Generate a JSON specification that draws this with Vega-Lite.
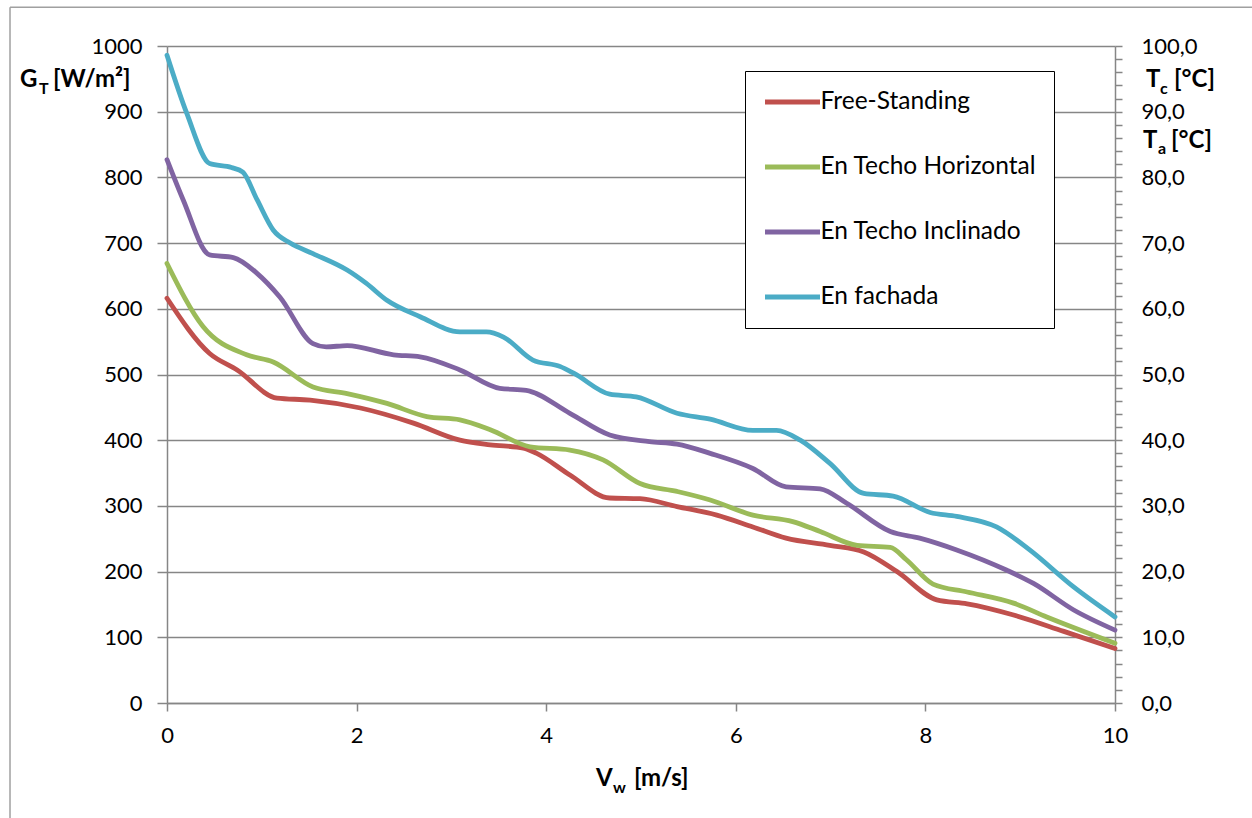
{
  "$schema": "https://vega.github.io/schema/vega-lite/v6.json",
  "autosize": {"type": "none"},
  "width": 948,
  "height": 657,
  "padding": {"left": 167, "top": 46, "right": 137, "bottom": 115},
  "background": "white",
  "data": {"values": [{}]},
  "config": {
    "view": {"stroke": null},
    "font": "Lato",
    "axis": {"labelFont": "Lato", "labelFontSize": 22, "labelColor": "black", "domainColor": "#868686", "tickColor": "#868686", "domainWidth": 1.5, "tickWidth": 1.5, "gridColor": "#868686", "gridWidth": 1.4}
  },
  "datasets": {
    "curves": [
      {"v": 0, "g": 616, "s": "Free-Standing"},
      {"v": 0.45, "g": 532, "s": "Free-Standing"},
      {"v": 0.74, "g": 507, "s": "Free-Standing"},
      {"v": 1.16, "g": 464, "s": "Free-Standing"},
      {"v": 1.51, "g": 461, "s": "Free-Standing"},
      {"v": 2.04, "g": 449, "s": "Free-Standing"},
      {"v": 2.6, "g": 426, "s": "Free-Standing"},
      {"v": 3.09, "g": 400, "s": "Free-Standing"},
      {"v": 3.41, "g": 393, "s": "Free-Standing"},
      {"v": 3.76, "g": 388, "s": "Free-Standing"},
      {"v": 3.9, "g": 380, "s": "Free-Standing"},
      {"v": 4.25, "g": 347, "s": "Free-Standing"},
      {"v": 4.67, "g": 312, "s": "Free-Standing"},
      {"v": 4.99, "g": 311, "s": "Free-Standing"},
      {"v": 5.38, "g": 299, "s": "Free-Standing"},
      {"v": 5.8, "g": 286, "s": "Free-Standing"},
      {"v": 6.18, "g": 268, "s": "Free-Standing"},
      {"v": 6.53, "g": 251, "s": "Free-Standing"},
      {"v": 6.99, "g": 240, "s": "Free-Standing"},
      {"v": 7.35, "g": 230, "s": "Free-Standing"},
      {"v": 7.7, "g": 200, "s": "Free-Standing"},
      {"v": 8.12, "g": 157, "s": "Free-Standing"},
      {"v": 8.44, "g": 151, "s": "Free-Standing"},
      {"v": 8.93, "g": 134, "s": "Free-Standing"},
      {"v": 9.46, "g": 109, "s": "Free-Standing"},
      {"v": 10, "g": 83, "s": "Free-Standing"},

      {"v": 0, "g": 669, "s": "En Techo Horizontal"},
      {"v": 0.38, "g": 573, "s": "En Techo Horizontal"},
      {"v": 0.84, "g": 530, "s": "En Techo Horizontal"},
      {"v": 1.12, "g": 519, "s": "En Techo Horizontal"},
      {"v": 1.54, "g": 481, "s": "En Techo Horizontal"},
      {"v": 1.9, "g": 471, "s": "En Techo Horizontal"},
      {"v": 2.32, "g": 456, "s": "En Techo Horizontal"},
      {"v": 2.74, "g": 436, "s": "En Techo Horizontal"},
      {"v": 3.09, "g": 431, "s": "En Techo Horizontal"},
      {"v": 3.41, "g": 416, "s": "En Techo Horizontal"},
      {"v": 3.83, "g": 390, "s": "En Techo Horizontal"},
      {"v": 4.25, "g": 385, "s": "En Techo Horizontal"},
      {"v": 4.6, "g": 370, "s": "En Techo Horizontal"},
      {"v": 4.99, "g": 334, "s": "En Techo Horizontal"},
      {"v": 5.38, "g": 322, "s": "En Techo Horizontal"},
      {"v": 5.73, "g": 309, "s": "En Techo Horizontal"},
      {"v": 6.18, "g": 286, "s": "En Techo Horizontal"},
      {"v": 6.6, "g": 276, "s": "En Techo Horizontal"},
      {"v": 6.89, "g": 261, "s": "En Techo Horizontal"},
      {"v": 7.28, "g": 240, "s": "En Techo Horizontal"},
      {"v": 7.63, "g": 237, "s": "En Techo Horizontal"},
      {"v": 7.8, "g": 218, "s": "En Techo Horizontal"},
      {"v": 8.08, "g": 181, "s": "En Techo Horizontal"},
      {"v": 8.44, "g": 169, "s": "En Techo Horizontal"},
      {"v": 8.93, "g": 152, "s": "En Techo Horizontal"},
      {"v": 9.28, "g": 131, "s": "En Techo Horizontal"},
      {"v": 10, "g": 91, "s": "En Techo Horizontal"},

      {"v": 0, "g": 827, "s": "En Techo Inclinado"},
      {"v": 0.17, "g": 766, "s": "En Techo Inclinado"},
      {"v": 0.45, "g": 682, "s": "En Techo Inclinado"},
      {"v": 0.7, "g": 678, "s": "En Techo Inclinado"},
      {"v": 0.95, "g": 654, "s": "En Techo Inclinado"},
      {"v": 1.19, "g": 618, "s": "En Techo Inclinado"},
      {"v": 1.54, "g": 547, "s": "En Techo Inclinado"},
      {"v": 1.68, "g": 542, "s": "En Techo Inclinado"},
      {"v": 1.9, "g": 544, "s": "En Techo Inclinado"},
      {"v": 2.39, "g": 530, "s": "En Techo Inclinado"},
      {"v": 2.67, "g": 527, "s": "En Techo Inclinado"},
      {"v": 3.09, "g": 507, "s": "En Techo Inclinado"},
      {"v": 3.51, "g": 479, "s": "En Techo Inclinado"},
      {"v": 3.79, "g": 476, "s": "En Techo Inclinado"},
      {"v": 4.25, "g": 441, "s": "En Techo Inclinado"},
      {"v": 4.67, "g": 408, "s": "En Techo Inclinado"},
      {"v": 5.09, "g": 398, "s": "En Techo Inclinado"},
      {"v": 5.38, "g": 394, "s": "En Techo Inclinado"},
      {"v": 5.73, "g": 380, "s": "En Techo Inclinado"},
      {"v": 6.18, "g": 357, "s": "En Techo Inclinado"},
      {"v": 6.53, "g": 329, "s": "En Techo Inclinado"},
      {"v": 6.89, "g": 326, "s": "En Techo Inclinado"},
      {"v": 7.17, "g": 304, "s": "En Techo Inclinado"},
      {"v": 7.63, "g": 261, "s": "En Techo Inclinado"},
      {"v": 7.94, "g": 251, "s": "En Techo Inclinado"},
      {"v": 8.33, "g": 233, "s": "En Techo Inclinado"},
      {"v": 8.86, "g": 202, "s": "En Techo Inclinado"},
      {"v": 9.14, "g": 182, "s": "En Techo Inclinado"},
      {"v": 9.56, "g": 142, "s": "En Techo Inclinado"},
      {"v": 10, "g": 111, "s": "En Techo Inclinado"},

      {"v": 0, "g": 986, "s": "En fachada"},
      {"v": 0.21, "g": 897, "s": "En fachada"},
      {"v": 0.45, "g": 821, "s": "En fachada"},
      {"v": 0.68, "g": 815, "s": "En fachada"},
      {"v": 0.8, "g": 808, "s": "En fachada"},
      {"v": 0.95, "g": 766, "s": "En fachada"},
      {"v": 1.12, "g": 720, "s": "En fachada"},
      {"v": 1.3, "g": 700, "s": "En fachada"},
      {"v": 1.54, "g": 684, "s": "En fachada"},
      {"v": 1.9, "g": 659, "s": "En fachada"},
      {"v": 2.1, "g": 639, "s": "En fachada"},
      {"v": 2.32, "g": 613, "s": "En fachada"},
      {"v": 2.67, "g": 588, "s": "En fachada"},
      {"v": 3.09, "g": 565, "s": "En fachada"},
      {"v": 3.37, "g": 565, "s": "En fachada"},
      {"v": 3.55, "g": 557, "s": "En fachada"},
      {"v": 3.86, "g": 522, "s": "En fachada"},
      {"v": 4.15, "g": 512, "s": "En fachada"},
      {"v": 4.29, "g": 502, "s": "En fachada"},
      {"v": 4.67, "g": 470, "s": "En fachada"},
      {"v": 4.95, "g": 466, "s": "En fachada"},
      {"v": 5.38, "g": 441, "s": "En fachada"},
      {"v": 5.73, "g": 432, "s": "En fachada"},
      {"v": 6.18, "g": 415, "s": "En fachada"},
      {"v": 6.43, "g": 415, "s": "En fachada"},
      {"v": 6.68, "g": 400, "s": "En fachada"},
      {"v": 6.99, "g": 365, "s": "En fachada"},
      {"v": 7.35, "g": 319, "s": "En fachada"},
      {"v": 7.66, "g": 315, "s": "En fachada"},
      {"v": 8.05, "g": 290, "s": "En fachada"},
      {"v": 8.33, "g": 284, "s": "En fachada"},
      {"v": 8.75, "g": 268, "s": "En fachada"},
      {"v": 9.1, "g": 233, "s": "En fachada"},
      {"v": 9.56, "g": 177, "s": "En fachada"},
      {"v": 10, "g": 131, "s": "En fachada"}
    ]
  },
  "layer": [
    {
      "layer": [
        {
          "mark": {"type": "rule", "color": "#A0A0A0", "strokeWidth": 1.5},
          "encoding": {
            "x": {"datum": -1.656, "type": "quantitative"},
            "y": {"datum": 1059, "type": "quantitative"},
            "y2": {"datum": -400}
          }
        },
        {
          "mark": {"type": "rule", "color": "#A0A0A0", "strokeWidth": 1.5},
          "encoding": {
            "x": {"datum": -1.656, "type": "quantitative"},
            "x2": {"datum": 13},
            "y": {"datum": 1059, "type": "quantitative"}
          }
        },
        {
          "data": {"name": "curves"},
          "mark": {"type": "line", "interpolate": "monotone", "strokeWidth": 4.8, "strokeCap": "round", "strokeJoin": "round"},
          "encoding": {
            "x": {"field": "v", "type": "quantitative",
              "scale": {"domain": [0, 10], "nice": false, "zero": false},
              "axis": {"values": [0, 2, 4, 6, 8, 10], "format": "d", "grid": false, "title": null, "tickSize": 8, "labelPadding": 14, "labelFlush": false}},
            "y": {"field": "g", "type": "quantitative",
              "scale": {"domain": [0, 1000], "nice": false},
              "axis": {"values": [0, 100, 200, 300, 400, 500, 600, 700, 800, 900, 1000], "format": "d", "grid": true, "title": null, "tickSize": 10, "labelPadding": 15, "labelFlush": false}},
            "color": {"field": "s", "type": "nominal",
              "scale": {"domain": ["Free-Standing", "En Techo Horizontal", "En Techo Inclinado", "En fachada"], "range": ["#C0504D", "#9BBB59", "#8064A2", "#4BACC6"]},
              "legend": {"orient": "none", "legendX": 578, "legendY": 25, "title": null, "direction": "vertical",
                "strokeColor": "black", "fillColor": "white", "padding": 17.5, "clipHeight": 27,
                "symbolType": "stroke", "symbolSize": 3025, "symbolStrokeWidth": 4.8, "symbolOpacity": 1,
                "labelFont": "Lato", "labelFontSize": 24.5, "labelColor": "black", "labelOffset": -2, "rowPadding": 38, "labelLimit": 400}},
            "order": {"field": "v", "type": "quantitative"}
          }
        },
        {
          "mark": {"type": "text", "text": "G", "font": "Lato", "fontWeight": "bold", "fontSize": 24, "align": "left", "baseline": "alphabetic", "color": "black"},
          "encoding": {"x": {"datum": -1.551, "type": "quantitative"}, "y": {"datum": 937.6, "type": "quantitative"}}
        },
        {
          "mark": {"type": "text", "text": "T", "font": "Lato", "fontWeight": "bold", "fontSize": 16, "align": "left", "baseline": "alphabetic", "color": "black"},
          "encoding": {"x": {"datum": -1.35, "type": "quantitative"}, "y": {"datum": 927, "type": "quantitative"}}
        },
        {
          "mark": {"type": "text", "text": "[W/m²]", "font": "Lato", "fontWeight": "bold", "fontSize": 24, "align": "left", "baseline": "alphabetic", "color": "black"},
          "encoding": {"x": {"datum": -1.203, "type": "quantitative"}, "y": {"datum": 937.6, "type": "quantitative"}}
        },
        {
          "mark": {"type": "text", "text": "T", "font": "Lato", "fontWeight": "bold", "fontSize": 24, "align": "left", "baseline": "alphabetic", "color": "black"},
          "encoding": {"x": {"datum": 10.327, "type": "quantitative"}, "y": {"datum": 937.6, "type": "quantitative"}}
        },
        {
          "mark": {"type": "text", "text": "c", "font": "Lato", "fontWeight": "bold", "fontSize": 16, "align": "left", "baseline": "alphabetic", "color": "black"},
          "encoding": {"x": {"datum": 10.475, "type": "quantitative"}, "y": {"datum": 927, "type": "quantitative"}}
        },
        {
          "mark": {"type": "text", "text": "[°C]", "font": "Lato", "fontWeight": "bold", "fontSize": 24, "align": "left", "baseline": "alphabetic", "color": "black"},
          "encoding": {"x": {"datum": 10.623, "type": "quantitative"}, "y": {"datum": 937.6, "type": "quantitative"}}
        },
        {
          "mark": {"type": "text", "text": "T", "font": "Lato", "fontWeight": "bold", "fontSize": 24, "align": "left", "baseline": "alphabetic", "color": "black"},
          "encoding": {"x": {"datum": 10.295, "type": "quantitative"}, "y": {"datum": 845.5, "type": "quantitative"}}
        },
        {
          "mark": {"type": "text", "text": "a", "font": "Lato", "fontWeight": "bold", "fontSize": 16, "align": "left", "baseline": "alphabetic", "color": "black"},
          "encoding": {"x": {"datum": 10.454, "type": "quantitative"}, "y": {"datum": 834.9, "type": "quantitative"}}
        },
        {
          "mark": {"type": "text", "text": "[°C]", "font": "Lato", "fontWeight": "bold", "fontSize": 24, "align": "left", "baseline": "alphabetic", "color": "black"},
          "encoding": {"x": {"datum": 10.591, "type": "quantitative"}, "y": {"datum": 845.5, "type": "quantitative"}}
        },
        {
          "mark": {"type": "text", "text": "V", "font": "Lato", "fontWeight": "bold", "fontSize": 24, "align": "left", "baseline": "alphabetic", "color": "black"},
          "encoding": {"x": {"datum": 4.525, "type": "quantitative"}, "y": {"datum": -126.3, "type": "quantitative"}}
        },
        {
          "mark": {"type": "text", "text": "w", "font": "Lato", "fontWeight": "bold", "fontSize": 16, "align": "left", "baseline": "alphabetic", "color": "black"},
          "encoding": {"x": {"datum": 4.704, "type": "quantitative"}, "y": {"datum": -136.9, "type": "quantitative"}}
        },
        {
          "mark": {"type": "text", "text": "[m/s]", "font": "Lato", "fontWeight": "bold", "fontSize": 24, "align": "left", "baseline": "alphabetic", "color": "black"},
          "encoding": {"x": {"datum": 4.926, "type": "quantitative"}, "y": {"datum": -126.3, "type": "quantitative"}}
        }
      ]
    },
    {
      "mark": {"type": "rule", "opacity": 0},
      "encoding": {
        "y": {"datum": 0, "type": "quantitative",
          "scale": {"domain": [0, 100], "nice": false},
          "axis": {"orient": "right", "values": [0, 2, 4, 6, 8, 10, 12, 14, 16, 18, 20, 22, 24, 26, 28, 30, 32, 34, 36, 38, 40, 42, 44, 46, 48, 50, 52, 54, 56, 58, 60, 62, 64, 66, 68, 70, 72, 74, 76, 78, 80, 82, 84, 86, 88, 90, 92, 94, 96, 98, 100],
            "labelExpr": "datum.value % 10 == 0 ? replace(format(datum.value, '.1f'), '.', ',') : ''",
            "labelOverlap": false, "labelBound": false, "labelFlush": false,
            "grid": false, "title": null, "tickSize": 7, "labelPadding": 19}}
      }
    }
  ],
  "resolve": {"scale": {"y": "independent"}}
}
